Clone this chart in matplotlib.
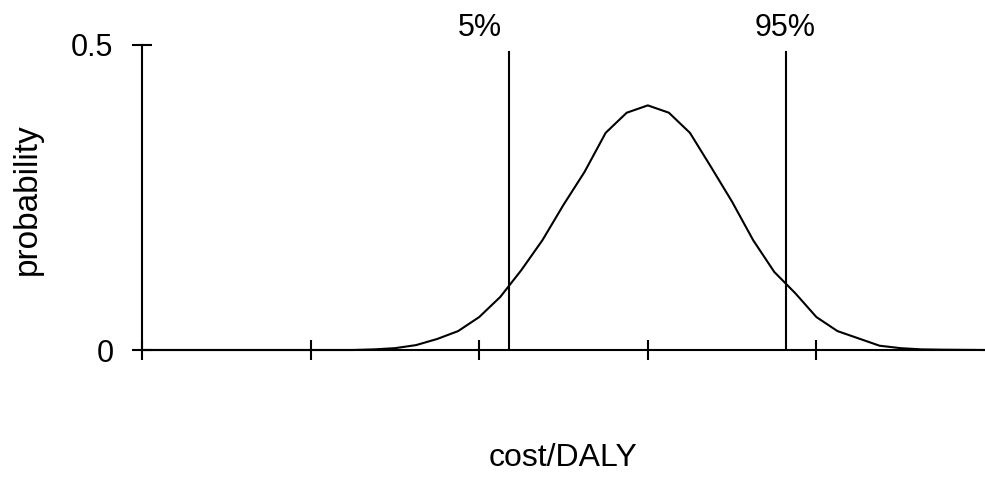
import matplotlib
matplotlib.use("Agg")
import matplotlib.pyplot as plt

plt.rcParams['font.family'] = ['Liberation Sans', 'DejaVu Sans']

# cost/DALY in standard-deviation units from the mean
x_vals = [-6.0, -5.0, -4.0, -3.5, -3.25, -3.0, -2.75, -2.5, -2.25, -2.0, -1.75, -1.5,
          -1.25, -1.0, -0.75, -0.5, -0.25, 0.0, 0.25, 0.5, 0.75, 1.0, 1.25,
          1.5, 1.75, 2.0, 2.25, 2.5, 2.75, 3.0, 3.25, 3.5, 4.0]
prob = [0.0, 0.0, 0.0, 0.0, 0.001, 0.003, 0.008, 0.018, 0.031, 0.054, 0.087, 0.131,
        0.180, 0.238, 0.292, 0.356, 0.389, 0.401, 0.389, 0.356, 0.300, 0.243, 0.180,
        0.128, 0.093, 0.054, 0.031, 0.019, 0.007, 0.003, 0.001, 0.0005, 0.0]

x_ticks = [-6, -4, -2, 0, 2]
y_ticks = [0, 0.5]
y_tick_labels = ['0', '0.5']
pct_positions = [-1.645, 1.645]
pct_labels = ['5%', '95%']
pct_label_x = [-1.99, 1.63]
pct_line_top = 0.489

W, H = 985, 480
fig = plt.figure(figsize=(W / 100, H / 100), dpi=100)
ax = fig.add_axes([142 / W, 1 - 350 / H, (985 - 142) / W, (350 - 45) / H])

lw = 1.5
ax.plot(x_vals, prob, color='black', lw=lw, clip_on=False)
for xp in pct_positions:
    ax.plot([xp, xp], [0, pct_line_top], color='black', lw=lw)
for xl, lab in zip(pct_label_x, pct_labels):
    ax.text(xl, 0.515, lab, ha='center', va='baseline', fontsize=22)

ax.set_xlim(-6, 4)
ax.set_ylim(0, 0.5)
ax.set_xticks(x_ticks)
ax.set_xticklabels([])
ax.set_yticks(y_ticks)
ax.set_yticklabels(y_tick_labels, fontsize=22)
ax.tick_params(axis='both', direction='inout', length=15, width=lw, pad=13)
for s in ['top', 'right']:
    ax.spines[s].set_visible(False)
for s in ['left', 'bottom']:
    ax.spines[s].set_linewidth(lw)

fig.text(563 / W, 1 - 458 / H, 'cost/DALY', ha='center', va='center', fontsize=23)
fig.text(27 / W, 1 - 199 / H, 'probability', ha='center', va='center',
         rotation=90, fontsize=24)

fig.savefig('out.png', dpi=100)
